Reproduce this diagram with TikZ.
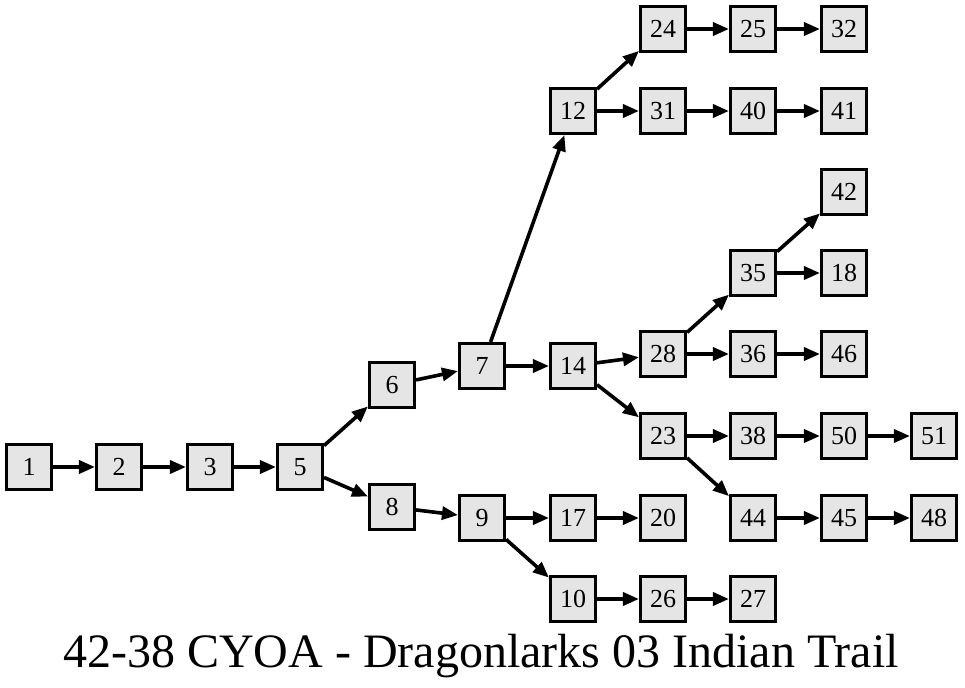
\documentclass[tikz,border=0pt]{standalone}
\usepackage{fontspec}
\setmainfont{Liberation Serif}
\usepackage{tikz}
\usetikzlibrary{arrows.meta}

\begin{document}
\begin{tikzpicture}[x=1pt,y=-1pt,>={Triangle[length=16pt,width=13pt]},
  box/.style={draw, line width=2.6pt, fill=gray!20, minimum size=45.5pt, inner sep=0pt, font=\fontsize{26}{28}\selectfont},
  arc/.style={->, line width=3.6pt}]
\useasboundingbox (0,0) rectangle (965,687);
% Define the vertices
\node[box] (n1) at (29,467) {1};
\node[box] (n2) at (119,467) {2};
\node[box] (n3) at (210,467) {3};
\node[box] (n5) at (300,467) {5};
\node[box] (n6) at (392,385) {6};
\node[box] (n8) at (392,507) {8};
\node[box] (n7) at (482,366) {7};
\node[box] (n9) at (482,518) {9};
\node[box] (n12) at (573,111) {12};
\node[box] (n14) at (573,366) {14};
\node[box] (n17) at (573,518) {17};
\node[box] (n10) at (573,599) {10};
\node[box] (n24) at (663,29) {24};
\node[box] (n31) at (663,111) {31};
\node[box] (n28) at (663,354) {28};
\node[box] (n23) at (663,436) {23};
\node[box] (n20) at (663,518) {20};
\node[box] (n26) at (663,599) {26};
\node[box] (n25) at (753,29) {25};
\node[box] (n40) at (753,111) {40};
\node[box] (n35) at (753,273) {35};
\node[box] (n36) at (753,354) {36};
\node[box] (n38) at (753,436) {38};
\node[box] (n44) at (753,518) {44};
\node[box] (n27) at (753,599) {27};
\node[box] (n32) at (844,29) {32};
\node[box] (n41) at (844,111) {41};
\node[box] (n42) at (844,192) {42};
\node[box] (n18) at (844,273) {18};
\node[box] (n46) at (844,354) {46};
\node[box] (n50) at (844,436) {50};
\node[box] (n45) at (844,518) {45};
\node[box] (n51) at (934,436) {51};
\node[box] (n48) at (934,518) {48};

% Title
\node[anchor=base, font=\fontsize{48}{52}\selectfont] (title) at (481,667) {42-38 CYOA - Dragonlarks 03 Indian Trail};

% Draw the directed arcs
\draw[arc] (n1) to (n2);
\draw[arc] (n2) to (n3);
\draw[arc] (n3) to (n5);
\draw[arc] (n5) to (n6);
\draw[arc] (n5) to (n8);
\draw[arc] (n6) to (n7);
\draw[arc] (n8) to (n9);
\draw[arc] (n7) to (n12);
\draw[arc] (n7) to (n14);
\draw[arc] (n9) to (n17);
\draw[arc] (n9) to (n10);
\draw[arc] (n12) to (n24);
\draw[arc] (n12) to (n31);
\draw[arc] (n14) to (n28);
\draw[arc] (n14) to (n23);
\draw[arc] (n17) to (n20);
\draw[arc] (n10) to (n26);
\draw[arc] (n24) to (n25);
\draw[arc] (n31) to (n40);
\draw[arc] (n28) to (n35);
\draw[arc] (n28) to (n36);
\draw[arc] (n23) to (n38);
\draw[arc] (n23) to (n44);
\draw[arc] (n26) to (n27);
\draw[arc] (n25) to (n32);
\draw[arc] (n40) to (n41);
\draw[arc] (n35) to (n42);
\draw[arc] (n35) to (n18);
\draw[arc] (n36) to (n46);
\draw[arc] (n38) to (n50);
\draw[arc] (n44) to (n45);
\draw[arc] (n50) to (n51);
\draw[arc] (n45) to (n48);
\end{tikzpicture}
\end{document}
